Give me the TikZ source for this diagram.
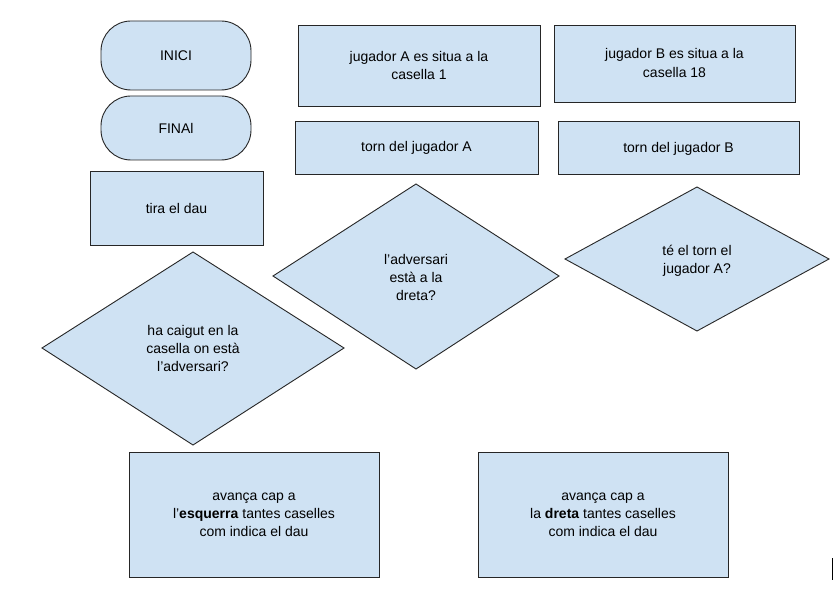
\documentclass[tikz,border=0pt]{standalone}
\usepackage{fontspec}
\setmainfont{Liberation Sans}
\definecolor{fillb}{HTML}{CFE2F3}
\begin{document}
\begin{tikzpicture}[x=1pt,y=-1pt,
  shp/.style={draw=black!85,fill=fillb,line width=0.9pt},
  txt/.style={align=center,font=\fontsize{14}{18}\selectfont}]
\useasboundingbox (0,0) rectangle (834,593);
\fill[white] (0,0) rectangle (834,593);
% stadiums
\draw[shp,rounded corners=30] (101,21) rectangle (251,90);
\node[txt] (inici) at (176,55.5) {INICI};
\draw[shp,rounded corners=30] (101,96) rectangle (251,160);
\node[txt] (final) at (176,128) {FINAl};
% rectangles
\draw[shp] (90,171) rectangle (263,245);
\node[txt] (tira) at (176.5,208) {tira el dau};
\draw[shp] (298,25) rectangle (540,106);
\node[txt] (ja) at (419,65) {jugador A es situa a la\\casella 1};
\draw[shp] (554,25) rectangle (795,102);
\node[txt] (jb) at (674.5,63) {jugador B es situa a la\\casella 18};
\draw[shp] (295,121) rectangle (538,174);
\node[txt] (ta) at (416.5,148) {torn del jugador A};
\draw[shp] (558,121) rectangle (799,174);
\node[txt] (tb) at (678.5,149) {torn del jugador B};
% diamonds
\draw[shp] (193,252) -- (344,348) -- (193,445) -- (42,348) -- cycle;
\node[txt] (d1) at (193,348) {ha caigut en la\\casella on està\\l’adversari?};
\draw[shp] (416,184) -- (559,276) -- (416,369) -- (273,276) -- cycle;
\node[txt] (d2) at (416,277) {l’adversari\\està a la\\dreta?};
\draw[shp] (697,187) -- (829,259) -- (697,331) -- (565,259) -- cycle;
\node[txt] (d3) at (697,261) {té el torn el\\jugador A?};
% bottom boxes
\draw[shp] (129,452) rectangle (379,577);
\node[txt] (esq) at (254,515) {avança cap a\\l’\textbf{esquerra} tantes caselles\\com indica el dau};
\draw[shp] (478,452) rectangle (728,577);
\node[txt] (dre) at (603,515) {avança cap a\\la \textbf{dreta} tantes caselles\\com indica el dau};
\draw[line width=0.9pt] (832,558) -- (832,580);
\end{tikzpicture}
\end{document}
